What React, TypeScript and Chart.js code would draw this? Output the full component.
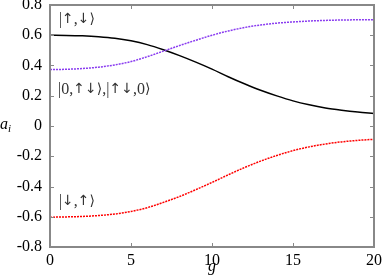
import React, { useEffect, useRef } from "react";
import { Chart, registerables } from "chart.js";

Chart.register(...registerables);

const gValues = [0, 1, 2, 3, 4, 5, 6, 7, 8, 9, 10, 11, 12, 13, 14, 15, 16, 17, 18, 19, 20];
const blackSeries = [0.6, 0.599, 0.596, 0.59, 0.58, 0.563, 0.538, 0.504, 0.465, 0.422, 0.376, 0.326, 0.279, 0.236, 0.199, 0.166, 0.14, 0.119, 0.104, 0.092, 0.083];
const purpleSeries = [0.373, 0.375, 0.38, 0.389, 0.404, 0.426, 0.458, 0.495, 0.532, 0.567, 0.6, 0.628, 0.651, 0.668, 0.68, 0.688, 0.694, 0.698, 0.701, 0.702, 0.703];
const redSeries = [-0.603, -0.601, -0.598, -0.592, -0.582, -0.565, -0.54, -0.505, -0.466, -0.421, -0.373, -0.323, -0.275, -0.232, -0.195, -0.163, -0.138, -0.119, -0.105, -0.095, -0.088];
const xTicks = [0, 5, 10, 15, 20];
const yTicks = [-0.8, -0.6, -0.4, -0.2, 0, 0.2, 0.4, 0.6, 0.8];
const stateLabels = [
  { text: "|↑,↓⟩", g: 0.55, a: 0.705 },
  { text: "|0,↑↓⟩,|↑↓,0⟩", g: 0.5, a: 0.242 },
  { text: "|↓,↑⟩", g: 0.55, a: -0.5 },
];

const SERIF = "Liberation Serif";
const ITALIC_FAMILY = "Times New Roman";
const SYMBOL_FONT = "14px DejaVu Sans";
const SYMBOLS = "↑↓⟩";

function drawMixed(ctx: any, text: string, x: number, y: number) {
  let cx = x;
  for (const ch of Array.from(text)) {
    ctx.font = SYMBOLS.includes(ch) ? SYMBOL_FONT : "16px " + SERIF;
    ctx.fillText(ch, cx, y);
    cx += ctx.measureText(ch).width;
  }
}

const framePlugin = {
  id: "framePlugin",
  afterDraw(chart: any) {
    const ctx = chart.ctx;
    const { left, right, top, bottom } = chart.chartArea;
    const xs = chart.scales.x;
    const ys = chart.scales.y;
    ctx.save();
    ctx.strokeStyle = "#888888";
    ctx.lineWidth = 1;
    const tl = 4;
    ctx.beginPath();
    for (const v of xTicks) {
      const px = Math.round(xs.getPixelForValue(v)) + 0.5;
      ctx.moveTo(px, bottom);
      ctx.lineTo(px, bottom - tl);
      ctx.moveTo(px, top);
      ctx.lineTo(px, top + tl);
    }
    for (const v of yTicks) {
      const py = Math.round(ys.getPixelForValue(v)) + 0.5;
      ctx.moveTo(left, py);
      ctx.lineTo(left + tl, py);
      ctx.moveTo(right, py);
      ctx.lineTo(right - tl, py);
    }
    ctx.stroke();
    ctx.lineWidth = 2;
    ctx.strokeRect(left, top, right - left, bottom - top);

    ctx.fillStyle = "#333333";
    ctx.textBaseline = "middle";
    ctx.textAlign = "left";
    for (const l of stateLabels) {
      drawMixed(ctx, l.text, xs.getPixelForValue(l.g), ys.getPixelForValue(l.a));
    }

    ctx.fillStyle = "#000000";
    ctx.font = "italic 16px " + ITALIC_FAMILY;
    ctx.textBaseline = "alphabetic";
    ctx.textAlign = "left";
    ctx.fillText("a", 0, 129);
    ctx.font = "italic 11px " + ITALIC_FAMILY;
    ctx.fillText("i", 8, 132);
    ctx.font = "italic 16px " + ITALIC_FAMILY;
    ctx.textAlign = "center";
    ctx.fillText("g", (left + right) / 2, 271);
    ctx.restore();
  },
};

export default function App() {
  const ref = useRef<HTMLCanvasElement | null>(null);
  useEffect(() => {
    if (!ref.current) return;
    const chart = new Chart(ref.current, {
      type: "line",
      data: {
        datasets: [
          {
            data: gValues.map((g, i) => ({ x: g, y: purpleSeries[i] })),
            borderColor: "#8a3cf0",
            borderWidth: 1.5,
            borderDash: [2, 1],
            pointRadius: 0,
            cubicInterpolationMode: "monotone",
          },
          {
            data: gValues.map((g, i) => ({ x: g, y: blackSeries[i] })),
            borderColor: "#000000",
            borderWidth: 1.5,
            pointRadius: 0,
            cubicInterpolationMode: "monotone",
          },
          {
            data: gValues.map((g, i) => ({ x: g, y: redSeries[i] })),
            borderColor: "#ff0000",
            borderWidth: 1.5,
            borderDash: [2, 1],
            pointRadius: 0,
            cubicInterpolationMode: "monotone",
          },
        ],
      },
      options: {
        animation: false,
        responsive: false,
        layout: { padding: { left: 0, right: 8, top: 5, bottom: 0 } },
        plugins: { legend: { display: false }, tooltip: { enabled: false } },
        scales: {
          x: {
            type: "linear",
            min: 0,
            max: 20,
            afterBuildTicks: (s: any) => {
              s.ticks = xTicks.map((v) => ({ value: v }));
            },
            afterFit: (s: any) => {
              s.height = 31;
              s.paddingLeft = 0;
              s.paddingRight = 0;
            },
            grid: { display: false, drawTicks: false },
            border: { display: false },
            ticks: {
              padding: 4,
              color: "#000000",
              font: { family: SERIF, size: 16 },
              maxRotation: 0,
              callback: (v: any) => String(v),
            },
          },
          y: {
            type: "linear",
            min: -0.8,
            max: 0.8,
            afterBuildTicks: (s: any) => {
              s.ticks = yTicks.map((v) => ({ value: v }));
            },
            afterFit: (s: any) => {
              s.width = 50;
              s.paddingTop = 0;
              s.paddingBottom = 0;
            },
            grid: { display: false, drawTicks: false },
            border: { display: false },
            ticks: {
              padding: 8,
              color: "#000000",
              font: { family: SERIF, size: 16 },
              callback: (v: any) => (Math.abs(v) < 1e-9 ? "0" : Number(v).toFixed(1)),
            },
          },
        },
      },
      plugins: [framePlugin],
    });
    return () => chart.destroy();
  }, []);
  return (
    <div style={{ position: "absolute", left: 0, top: 0 }}>
      <canvas ref={ref} width={382} height={278} style={{ display: "block" }} />
    </div>
  );
}
